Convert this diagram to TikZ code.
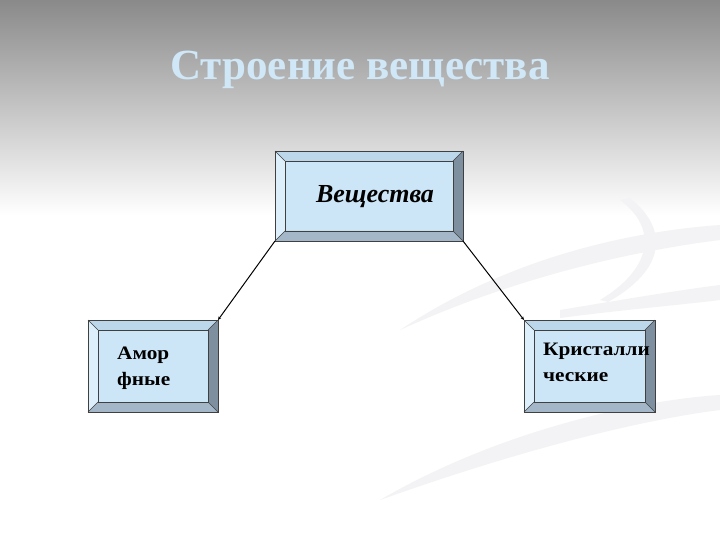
\documentclass[tikz,border=0pt]{standalone}
\usepackage{fontspec}
\setmainfont{Liberation Serif}
\usetikzlibrary{arrows.meta}
\definecolor{face}{HTML}{CDE6F7}
\definecolor{bevT}{HTML}{BCD6EA}
\definecolor{bevL}{HTML}{DDEFFB}
\definecolor{bevR}{HTML}{7E8FA0}
\definecolor{bevB}{HTML}{A3B7C8}
\definecolor{titlec}{HTML}{CFE7F6}
\definecolor{swoosh}{HTML}{F3F3F5}
\newcommand\drawbevel[2]{%
 \fill[bevT] (#1.north west) -- (#1.north east) -- ([xshift=-#2,yshift=-#2]#1.north east) -- ([xshift=#2,yshift=-#2]#1.north west) -- cycle;
 \fill[bevL] (#1.north west) -- (#1.south west) -- ([xshift=#2,yshift=#2]#1.south west) -- ([xshift=#2,yshift=-#2]#1.north west) -- cycle;
 \fill[bevR] (#1.north east) -- (#1.south east) -- ([xshift=-#2,yshift=#2]#1.south east) -- ([xshift=-#2,yshift=-#2]#1.north east) -- cycle;
 \fill[bevB] (#1.south west) -- (#1.south east) -- ([xshift=-#2,yshift=#2]#1.south east) -- ([xshift=#2,yshift=#2]#1.south west) -- cycle;
 \draw[edge] (#1.north west) rectangle (#1.south east);
 \draw[edge] ([xshift=#2,yshift=-#2]#1.north west) rectangle ([xshift=-#2,yshift=#2]#1.south east);
 \draw[edge] (#1.north west) -- ([xshift=#2,yshift=-#2]#1.north west);
 \draw[edge] (#1.north east) -- ([xshift=-#2,yshift=-#2]#1.north east);
 \draw[edge] (#1.south west) -- ([xshift=#2,yshift=#2]#1.south west);
 \draw[edge] (#1.south east) -- ([xshift=-#2,yshift=#2]#1.south east);
}
\tikzset{
 boxnode/.style={rectangle, fill=face, inner sep=0pt, outer sep=0pt},
 edge/.style={draw=black!75, line width=0.5pt},
 conn/.style={draw=black, line width=1pt, -{Stealth[length=3.5pt,width=3pt]}},
 small/.style={font=\fontsize{19}{26}\selectfont\bfseries, align=left, anchor=north west, inner sep=0pt, xscale=1.12}
}
\begin{document}
\begin{tikzpicture}[x=1pt,y=-1pt]
\useasboundingbox (0,0) rectangle (720,540);
\fill[white] (0,0) rectangle (720,540);
\shade[top color=black!46, bottom color=white] (0,0) rectangle (720,215);
% faint swooshes
\fill[swoosh] (400,330) .. controls (520,250) and (650,230) .. (720,225) -- (720,240) .. controls (640,250) and (520,275) .. (400,330) -- cycle;
\fill[swoosh] (380,500) .. controls (500,430) and (640,400) .. (720,395) -- (720,410) .. controls (640,420) and (520,450) .. (380,500) -- cycle;
\fill[swoosh] (560,310) .. controls (620,300) and (680,290) .. (720,285) -- (720,300) .. controls (680,305) and (620,310) .. (560,318) -- cycle;
\fill[swoosh] (620,200) .. controls (660,230) and (650,270) .. (600,300) -- (608,302) .. controls (665,270) and (670,230) .. (630,198) -- cycle;
% title
\node[text=titlec, font=\fontsize{43}{48}\selectfont\bfseries] (title) at (360,70) {Строение вещества};
% boxes
\node[boxnode, minimum width=188pt, minimum height=90pt] (top) at (369,196) {};
\drawbevel{top}{10pt}
\node[font=\fontsize{26}{30}\selectfont\bfseries\itshape] (toplbl) at (375,197) {Вещества};
\node[boxnode, minimum width=130pt, minimum height=92pt] (amor) at (153,366) {};
\drawbevel{amor}{10pt}
\node[small, transform shape] (amorlbl) at (117,347) {Амор\\фные};
\node[boxnode, minimum width=131pt, minimum height=92pt] (kris) at (589.5,366) {};
\drawbevel{kris}{10pt}
\node[small, transform shape] (krislbl) at (543,343) {Кристалли\\ческие};
% connectors
\draw[conn] (top.south west) -- (amor.north east);
\draw[conn] (top.south east) -- (kris.north west);
\end{tikzpicture}
\end{document}
